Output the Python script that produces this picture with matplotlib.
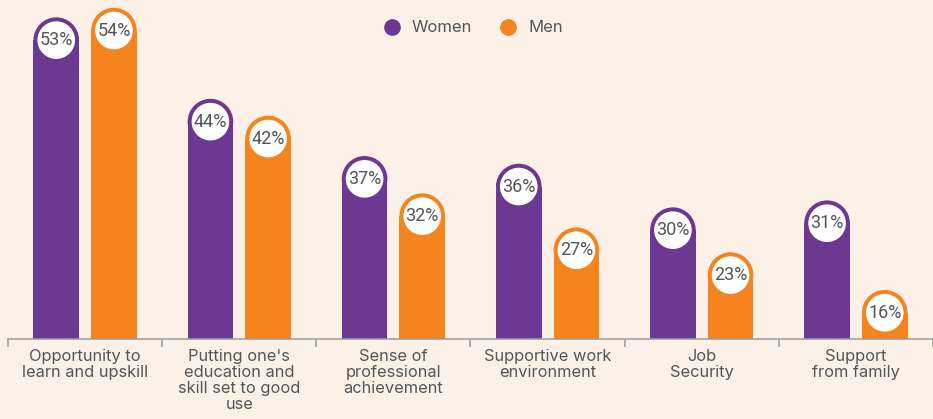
import matplotlib
matplotlib.use("Agg")
import matplotlib.pyplot as plt
from matplotlib.patches import Rectangle, Circle
from matplotlib.transforms import IdentityTransform
from matplotlib.lines import Line2D
import numpy as np

categories = [
    "Opportunity to\nlearn and upskill",
    "Putting one's\neducation and\nskill set to good\nuse",
    "Sense of\nprofessional\nachievement",
    "Supportive work\nenvironment",
    "Job\nSecurity",
    "Support\nfrom family",
]
women = [53, 44, 37, 36, 30, 31]
men = [54, 42, 32, 27, 23, 16]
series_names = ["Women", "Men"]

PURPLE = "#6C3891"
ORANGE = "#F5841F"
BG = "#FDF0E7"
TEXT = "#555555"
AXIS = "#9A9A9A"

W, H = 933, 419
fig = plt.figure(figsize=(W / 100, H / 100), dpi=100, facecolor=BG)
ax = fig.add_axes([8 / W, 80 / H, 925 / W, 339 / H])
ax.set_facecolor(BG)

p = 1.57
ax.set_yscale("function", functions=(lambda v: np.sign(v) * np.abs(v) ** p,
                                      lambda t: np.sign(t) * np.abs(t) ** (1 / p)))
ax.set_ylim(0, 54.8)
ax.set_xlim(-0.5, 5.455)

for s in ["top", "right", "left"]:
    ax.spines[s].set_visible(False)
ax.spines["bottom"].set_color(AXIS)
ax.spines["bottom"].set_linewidth(1.1)
ax.set_yticks([])
ax.set_xticks(range(len(categories)))
ax.set_xticklabels(categories, fontsize=11.8, color=TEXT, family=["Inter", "DejaVu Sans"],
                   linespacing=1.1)
ax.tick_params(axis="x", which="major", length=0, pad=7)
ax.set_xticks(np.arange(-0.5, len(categories), 1.0), minor=True)
ax.tick_params(axis="x", which="minor", length=6, width=1.1, color=AXIS)

bw = 0.296
off = 0.187
ident = IdentityTransform()

def draw_bar(xc, v, color):
    x0, y0 = ax.transData.transform((xc - bw / 2, 0))
    x1, y1 = ax.transData.transform((xc + bw / 2, v))
    r = (x1 - x0) / 2
    cx = (x0 + x1) / 2
    cy = y1 - r
    ax.add_patch(Rectangle((x0, y0), x1 - x0, cy - y0, transform=ident,
                           facecolor=color, edgecolor="none", clip_on=False))
    ax.add_patch(Circle((cx, cy), r, transform=ident, facecolor=color,
                        edgecolor="none", clip_on=False))
    ax.add_patch(Circle((cx, cy), r - 4, transform=ident, facecolor="white",
                        edgecolor="none", clip_on=False))
    ax.text(cx, cy, f"{v}%", transform=ident, ha="center", va="center",
            fontsize=13, color=TEXT, family=["Roboto", "DejaVu Sans"])

for i, (w, m) in enumerate(zip(women, men)):
    draw_bar(i - off, w, PURPLE)
    draw_bar(i + off, m, ORANGE)

handles = [Line2D([], [], marker="o", linestyle="none", markersize=11,
                  markerfacecolor=c, markeredgecolor=c) for c in (PURPLE, ORANGE)]
leg = fig.legend(handles, series_names, loc="center", bbox_to_anchor=(469 / W, 1 - 28 / H),
                 ncol=2, frameon=False, handletextpad=0.2, columnspacing=1.15,
                 prop={"family": ["Inter", "DejaVu Sans"], "size": 12})
for t in leg.get_texts():
    t.set_color(TEXT)

fig.savefig("out.png", dpi=100, facecolor=BG)
